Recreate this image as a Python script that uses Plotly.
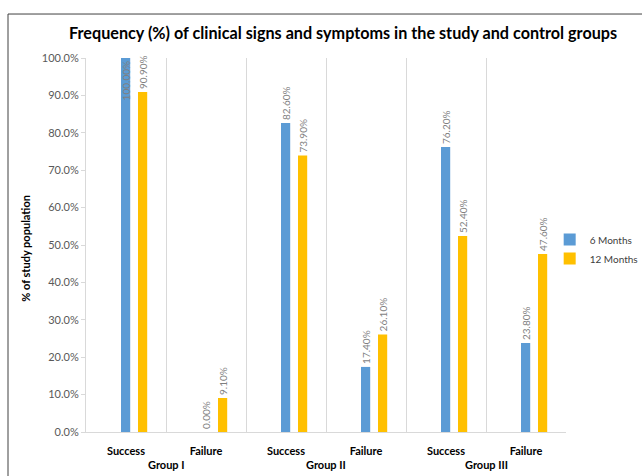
import plotly.graph_objects as go

# Outcome categories and the groups they belong to
outcomes = ["Success", "Failure", "Success", "Failure", "Success", "Failure"]
group_names = ["Group I", "Group II", "Group III"]

# Percent of study population per follow-up time
months_6 = [100.0, 0.0, 82.6, 17.4, 76.2, 23.8]
months_12 = [90.9, 9.1, 73.9, 26.1, 52.4, 47.6]

series = [
    ("6 Months", months_6, "#5B9BD5", -0.0625),
    ("12 Months", months_12, "#FFC000", 0.15),
]

FONT = "Lato"
LABEL_GREY = "#7f7f7f"
GRID = "#d9d9d9"

pos = list(range(len(outcomes)))

fig = go.Figure()
for name, vals, color, off in series:
    fr = [v / 100 for v in vals]
    fig.add_trace(go.Bar(
        name=name,
        x=pos,
        y=fr,
        marker=dict(color=color, line=dict(width=0)),
        width=0.115,
        offset=off,
        texttemplate="%{y:.2%}",
        textposition=["inside" if v >= 0.99 else "outside" for v in fr],
        insidetextanchor="end",
        textangle=-90,
        constraintext="none",
        textfont=dict(family=FONT, size=10, color=LABEL_GREY),
        insidetextfont=dict(family=FONT, size=10, color=LABEL_GREY),
        outsidetextfont=dict(family=FONT, size=10, color=LABEL_GREY),
        cliponaxis=False,
    ))

# group captions centred under each Success/Failure pair
group_annotations = [
    dict(
        text=g, xref="x", yref="paper", x=2 * i + 0.5, y=-0.0856,
        xanchor="center", yanchor="middle", showarrow=False,
        font=dict(family=FONT, size=11, color="#000000", weight="bold"),
    )
    for i, g in enumerate(group_names)
]

fig.update_layout(
    width=642,
    height=476,
    margin=dict(l=86, r=76, t=58, b=44, autoexpand=False),
    paper_bgcolor="white",
    plot_bgcolor="white",
    barmode="group",
    showlegend=True,
    legend=dict(
        x=0.966, y=0.489, xanchor="left", yanchor="middle",
        font=dict(family=FONT, size=10, color="#404040"),
        itemwidth=30, tracegroupgap=2,
    ),
    xaxis=dict(
        range=[-0.5, len(outcomes) - 0.5],
        tickvals=pos,
        ticktext=outcomes,
        showgrid=False,
        zeroline=False,
        showline=True,
        linecolor=GRID,
        ticks="",
        ticklabelstandoff=9,
        tickfont=dict(family=FONT, size=11, color="#000000", weight="bold"),
        minor=dict(
            tickvals=[p + 0.5 for p in [-1] + pos],
            showgrid=True,
            gridcolor=GRID,
            ticks="",
        ),
    ),
    yaxis=dict(
        range=[0, 1],
        dtick=0.1,
        tickformat=".1%",
        showgrid=False,
        showline=True,
        linecolor=GRID,
        ticks="outside",
        ticklen=4,
        tickcolor=GRID,
        zeroline=False,
        tickfont=dict(family=FONT, size=11, color="#595959"),
    ),
    annotations=[
        dict(
            text="Frequency (%) of clinical signs and symptoms in the study and control groups",
            xref="paper", yref="paper", x=0.535, y=1.0695,
            xanchor="center", yanchor="middle", showarrow=False,
            font=dict(family=FONT, size=16.2, color="#000000", weight="bold"),
        ),
        dict(
            text="% of study population",
            xref="paper", yref="paper", x=-0.125, y=0.49,
            xanchor="center", yanchor="middle", textangle=-90, showarrow=False,
            font=dict(family=FONT, size=11, color="#000000", weight="bold"),
        ),
    ] + group_annotations,
    shapes=[
        dict(
            type="rect", xref="paper", yref="paper",
            x0=-0.1625, x1=1.5, y0=-0.3, y1=1.1176,
            line=dict(color="#404040", width=1), fillcolor="rgba(0,0,0,0)",
            layer="below",
        )
    ],
)

fig.write_html("out.html")
